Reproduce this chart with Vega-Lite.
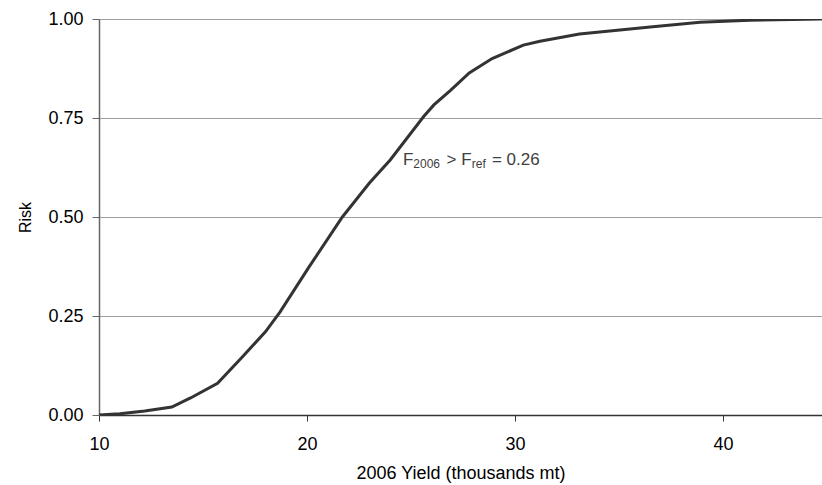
{
  "$schema": "https://vega.github.io/schema/vega-lite/v6.json",
  "width": 723,
  "height": 396,
  "autosize": {"type": "none"},
  "padding": {"left": 99, "top": 19, "right": 0, "bottom": 70},
  "background": "white",
  "config": {
    "view": {"stroke": null},
    "font": "Liberation Sans",
    "axis": {"labelFont": "Liberation Sans", "titleFont": "Liberation Sans", "labelColor": "#000", "titleColor": "#000", "titleFontWeight": "normal"}
  },
  "datasets": {
    "curve": [
      {"yield": 10, "risk": 0},
      {"yield": 11, "risk": 0.003},
      {"yield": 12.2, "risk": 0.01},
      {"yield": 13.5, "risk": 0.02},
      {"yield": 14.4, "risk": 0.043},
      {"yield": 15.7, "risk": 0.08},
      {"yield": 16.9, "risk": 0.147},
      {"yield": 18.0, "risk": 0.21},
      {"yield": 18.7, "risk": 0.26},
      {"yield": 20.1, "risk": 0.374},
      {"yield": 21.7, "risk": 0.5},
      {"yield": 23.0, "risk": 0.586},
      {"yield": 24.0, "risk": 0.644},
      {"yield": 25.6, "risk": 0.753},
      {"yield": 26.1, "risk": 0.783},
      {"yield": 26.9, "risk": 0.82},
      {"yield": 27.8, "risk": 0.864},
      {"yield": 28.9, "risk": 0.9},
      {"yield": 30.4, "risk": 0.934},
      {"yield": 31.2, "risk": 0.944},
      {"yield": 33.1, "risk": 0.962},
      {"yield": 36.5, "risk": 0.98},
      {"yield": 38.9, "risk": 0.992},
      {"yield": 41.3, "risk": 0.997},
      {"yield": 44.8, "risk": 1.0}
    ],
    "main": [
      {"ax": 24.62, "ay": 0.631, "t": "F"},
      {"ax": 26.71, "ay": 0.631, "t": "> F"},
      {"ax": 28.89, "ay": 0.631, "t": "= 0.26"}
    ],
    "sub": [
      {"ax": 25.11, "ay": 0.624, "t": "2006"},
      {"ax": 27.92, "ay": 0.624, "t": "ref"}
    ]
  },
  "layer": [
    {
      "data": {"name": "curve"},
      "mark": {"type": "line", "color": "#333333", "strokeWidth": 3, "interpolate": "linear", "clip": true},
      "encoding": {
        "x": {
          "field": "yield", "type": "quantitative",
          "scale": {"domain": [10, 44.76], "nice": false, "zero": false},
          "axis": {
            "title": "2006 Yield (thousands mt)", "titleFontSize": 18, "titlePadding": 11,
            "values": [10, 20, 30, 40], "format": "d", "grid": false,
            "labelFontSize": 18, "labelPadding": 14, "tickSize": 6,
            "domainColor": "#333333", "tickColor": "#333333", "domainWidth": 1.5,
            "labelFlush": false
          }
        },
        "y": {
          "field": "risk", "type": "quantitative",
          "scale": {"domain": [0, 1], "nice": false},
          "axis": {
            "title": "Risk", "titleFontSize": 16, "titlePadding": 14,
            "values": [0, 0.25, 0.5, 0.75, 1], "format": ".2f",
            "grid": true, "gridColor": "#a0a0a0", "gridWidth": 1,
            "labelFontSize": 18, "labelPadding": 9, "tickSize": 7,
            "domainColor": "#666666", "tickColor": "#666666", "domainWidth": 1.5
          }
        }
      }
    },
    {
      "data": {"name": "main"},
      "mark": {"type": "text", "align": "left", "baseline": "alphabetic", "fontSize": 17, "color": "#404040", "font": "Liberation Sans"},
      "encoding": {
        "x": {"field": "ax", "type": "quantitative"},
        "y": {"field": "ay", "type": "quantitative"},
        "text": {"field": "t"}
      }
    },
    {
      "data": {"name": "sub"},
      "mark": {"type": "text", "align": "left", "baseline": "alphabetic", "fontSize": 12, "color": "#404040", "font": "Liberation Sans"},
      "encoding": {
        "x": {"field": "ax", "type": "quantitative"},
        "y": {"field": "ay", "type": "quantitative"},
        "text": {"field": "t"}
      }
    }
  ]
}
